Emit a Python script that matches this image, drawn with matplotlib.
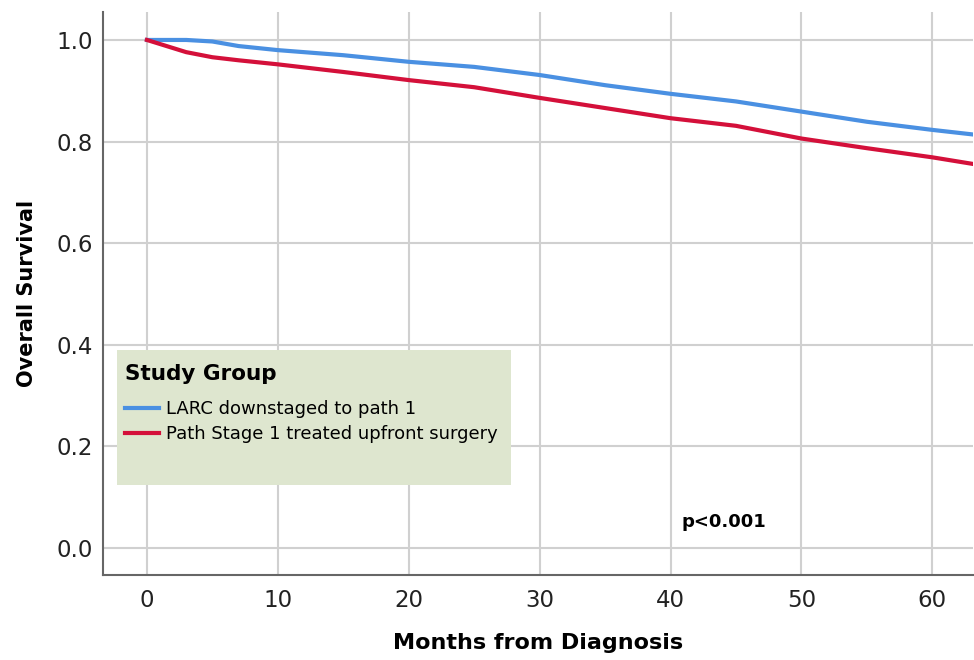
import numpy as np
import matplotlib
matplotlib.use('Agg')
import matplotlib.pyplot as plt
from matplotlib.patches import Rectangle

plt.rcParams['font.family'] = ['DejaVu Sans']

# Kaplan-Meier estimates
months = [0, 3, 5, 7, 10, 15, 20, 25, 30, 35, 40, 45, 50, 55, 60, 63.1]
larc_os = [1.0, 1.0, 0.997, 0.988, 0.980, 0.970, 0.957, 0.947, 0.931,
           0.911, 0.894, 0.879, 0.859, 0.839, 0.823, 0.814]
path1_os = [1.0, 0.976, 0.966, 0.960, 0.952, 0.937, 0.921, 0.907, 0.886,
            0.866, 0.846, 0.831, 0.806, 0.787, 0.769, 0.756]

labels = ['LARC downstaged to path 1', 'Path Stage 1 treated upfront surgery']
colors = ['#4a90e2', '#d4103a']

xticks = [0, 10, 20, 30, 40, 50, 60]
yticks = [0.0, 0.2, 0.4, 0.6, 0.8, 1.0]

fig = plt.figure(figsize=(9.74, 6.6), dpi=100)
ax = fig.add_axes([0.1057, 0.1288, 0.8932, 0.853])

ax.plot(months, larc_os, color=colors[0], lw=3, label=labels[0], zorder=4)
ax.plot(months, path1_os, color=colors[1], lw=3, label=labels[1], zorder=4)

ax.set_xlim(-3.36, 63.1)
ax.set_ylim(-0.053, 1.055)
ax.set_xticks(xticks)
ax.set_yticks(yticks)
ax.set_yticklabels([f'{v:.1f}' for v in yticks])
ax.tick_params(length=0, labelsize=16.5, colors='#222222')
ax.tick_params(axis='y', pad=7)
ax.tick_params(axis='x', pad=10)
ax.grid(True, color='#d0d0d0', lw=1.5)
ax.set_axisbelow(True)

for s in ['top', 'right']:
    ax.spines[s].set_visible(False)
for s in ['left', 'bottom']:
    ax.spines[s].set_color('#666666')
    ax.spines[s].set_linewidth(1.5)

ax.set_xlabel('Months from Diagnosis', fontsize=16, fontweight='bold', labelpad=15)
ax.set_ylabel('Overall Survival', fontsize=15, fontweight='bold', labelpad=14)

# legend background box
ax.add_patch(Rectangle((0.0161, 0.160), 0.4529, 0.240, transform=ax.transAxes,
                       facecolor='#dee6cf', edgecolor='none', zorder=5))
leg = ax.legend(loc='upper left', bbox_to_anchor=(0.0161, 0.39), frameon=False,
                title='Study Group', fontsize=13, handlelength=1.9,
                handletextpad=0.35, labelspacing=0.4, borderaxespad=0,
                borderpad=0.45, alignment='left')
leg.get_title().set_fontweight('bold')
leg.get_title().set_fontsize(15.5)
leg._legend_box.sep = 12
leg.set_zorder(6)

ax.text(0.714, 0.094, 'p<0.001', transform=ax.transAxes, fontsize=13,
        fontweight='bold', ha='center', va='center')

plt.savefig('out.png', dpi=100)
